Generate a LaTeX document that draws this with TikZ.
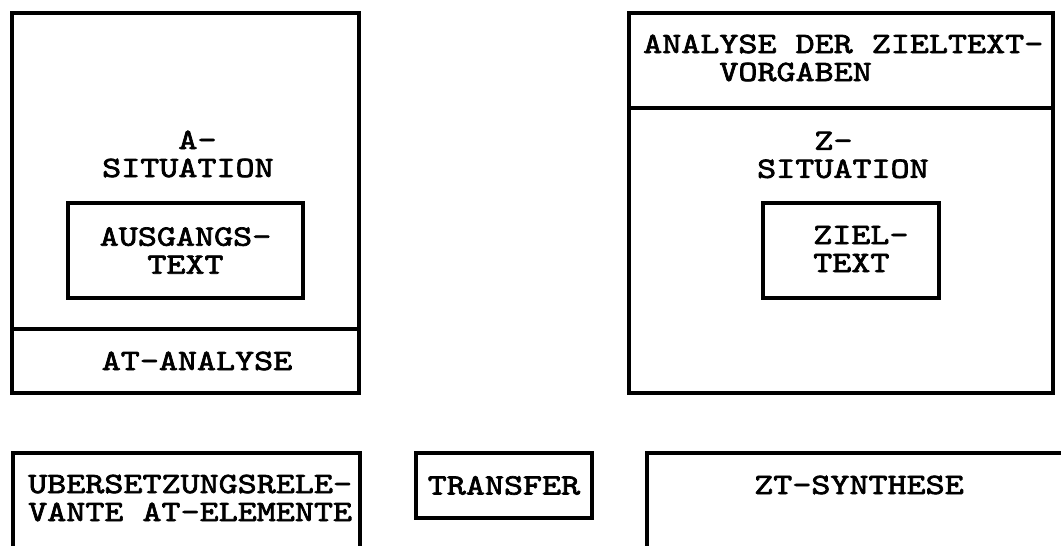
\documentclass[tikz,border=0pt]{standalone}
\usepackage{fontspec}
\newfontfamily\lbfam{lmmono10-regular.otf}[FakeStretch=1.23,FakeBold=2.4]
\newcommand\lbfont{\lbfam\fontsize{29.5}{28}\selectfont}
\begin{document}
\begin{tikzpicture}[x=1pt,y=-1pt,
  frame/.style={draw, line width=3.2pt, inner sep=0pt, outer sep=0pt, anchor=north west},
  openframe/.style={draw, line width=3.2pt},
  lbl/.style={font=\lbfont, inner sep=0pt, align=left},
  lbc/.style={font=\lbfont, inner sep=0pt, align=center}]
\useasboundingbox (0,0) rectangle (1061,546);
% upper left
\node[frame, minimum width=347pt, minimum height=316pt] (asit) at (12,13) {};
\node[frame, minimum width=347pt, minimum height=64pt] (atan) at (12,329) {};
\node[frame, minimum width=235pt, minimum height=95pt] (aus) at (68,203) {};
% upper right
\node[frame, minimum width=424pt, minimum height=95pt] (zvor) at (629,13) {};
\node[frame, minimum width=424pt, minimum height=285pt] (zsit) at (629,108) {};
\node[frame, minimum width=176pt, minimum height=95pt] (ziel) at (763,203) {};
% bottom
\node[frame, minimum width=176pt, minimum height=65pt] (trans) at (416,453) {};
\coordinate (ua) at (13,560);
\coordinate (ub) at (13,453);
\coordinate (uc) at (360,453);
\coordinate (ud) at (360,560);
\draw[openframe] (ua) -- (ub) -- (uc) -- (ud);
\coordinate (za) at (647,560);
\coordinate (zb) at (647,453);
\coordinate (zc) at (1075,453);
\draw[openframe] (za) -- (zb) -- (zc);
% texts
\node[lbl, anchor=west] (tasit) at (102,154) {\hphantom{SITU}A-\\SITUATION};
\node[lbc] (taus) at (aus.center) {AUSGANGS-\\TEXT};
\node[lbc] (tatan) at (197,361) {AT-ANALYSE};
\node[lbl, anchor=west] (tzvor) at (643,58) {ANALYSE DER ZIELTEXT-\\\hphantom{ANAL}VORGABEN};
\node[lbl, anchor=west] (tzsit) at (757,155) {\hphantom{SIT}Z-\\SITUATION};
\node[lbl, anchor=west] (tziel) at (813,249) {ZIEL-\\TEXT};
\node[lbl, anchor=west] (tueb) at (28,498) {UBERSETZUNGSRELE-\\VANTE AT-ELEMENTE};
\node[lbc] (ttrans) at (trans.center) {TRANSFER};
\node[lbc] (tzt) at (859,485) {ZT-SYNTHESE};
\end{tikzpicture}
\end{document}
